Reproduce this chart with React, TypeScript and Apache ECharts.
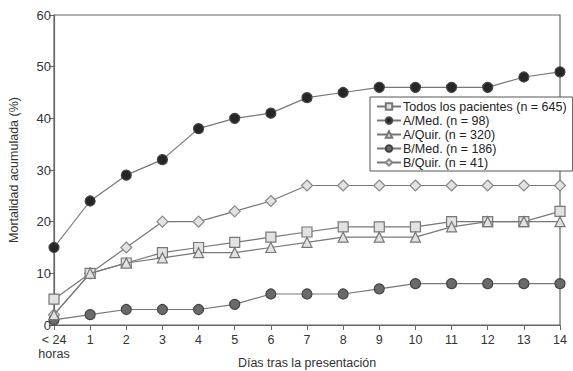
import React, { useEffect, useRef } from "react";
import * as echarts from "echarts";

const categories = ["< 24\nhoras", "1", "2", "3", "4", "5", "6", "7", "8", "9", "10", "11", "12", "13", "14"];
const todos = [5, 10, 12, 14, 15, 16, 17, 18, 19, 19, 19, 20, 20, 20, 22];
const aMed = [15, 24, 29, 32, 38, 40, 41, 44, 45, 46, 46, 46, 46, 48, 49];
const aQuir = [2, 10, 12, 13, 14, 14, 15, 16, 17, 17, 17, 19, 20, 20, 20];
const bMed = [1, 2, 3, 3, 3, 4, 6, 6, 6, 7, 8, 8, 8, 8, 8];
const bQuir = [2, 10, 15, 20, 20, 22, 24, 27, 27, 27, 27, 27, 27, 27, 27];

const FONT = "'Liberation Sans', Arial, sans-serif";

export default function App() {
  const ref = useRef<HTMLDivElement>(null);
  useEffect(() => {
    if (!ref.current) return;
    const chart = echarts.init(ref.current, null, { renderer: "svg" });
    const lineStyle = { color: "#777", width: 1.2 };
    const mk = (name: string, data: number[], symbol: string, size: number, fill: string, border: string, z: number) => ({
      name,
      type: "line",
      data,
      symbol,
      symbolSize: size,
      showSymbol: true,
      z,
      lineStyle,
      itemStyle: { color: fill, borderColor: border, borderWidth: 1.2 },
      emphasis: { disabled: true },
    });
    chart.setOption({
      animation: false,
      backgroundColor: "#fff",
      textStyle: { fontFamily: FONT },
      grid: {
        left: 54, right: 13, top: 15, bottom: 46, show: true, borderColor: "#666", borderWidth: 1.2,
        containLabel: false, outerBoundsMode: "none",
      },
      legend: {
        orient: "vertical",
        left: 370,
        top: 97,
        itemWidth: 24,
        itemHeight: 8,
        itemGap: 1,
        padding: [3, 6, 2, 6],
        borderColor: "#555",
        borderWidth: 1,
        backgroundColor: "#fff",
        textStyle: { fontFamily: FONT, fontSize: 12.5, color: "#222", padding: [0, 0, 0, -3] },
        data: [
          { name: "Todos los pacientes (n = 645)" },
          { name: "A/Med. (n = 98)" },
          { name: "A/Quir. (n = 320)" },
          { name: "B/Med. (n = 186)" },
          { name: "B/Quir. (n = 41)" },
        ],
      },
      xAxis: {
        type: "category",
        data: categories,
        boundaryGap: false,
        name: "Días tras la presentación",
        nameLocation: "middle",
        nameGap: 31,
        nameMoveOverlap: false,
        nameTextStyle: { fontFamily: FONT, fontSize: 12.5, color: "#333" },
        axisLine: { lineStyle: { color: "#666", width: 1.2 } },
        axisTick: { show: true, length: 5, alignWithLabel: true, lineStyle: { color: "#666" } },
        axisLabel: { fontFamily: FONT, fontSize: 12.5, color: "#333", margin: 8, lineHeight: 14, interval: 0 },
        splitLine: { show: false },
      },
      yAxis: {
        type: "value",
        min: 0,
        max: 60,
        interval: 10,
        name: "Mortalidad acumulada (%)",
        nameLocation: "middle",
        nameGap: 34,
        nameMoveOverlap: false,
        nameTextStyle: { fontFamily: FONT, fontSize: 12.5, color: "#333" },
        axisLine: { show: true, lineStyle: { color: "#666", width: 1.2 } },
        axisTick: { show: true, length: 5, lineStyle: { color: "#666" } },
        axisLabel: { fontFamily: FONT, fontSize: 13, color: "#333", margin: 3 },
        splitLine: { show: false },
      },
      series: [
        mk("Todos los pacientes (n = 645)", todos, "rect", 10, "#e2e2e2", "#777", 3),
        mk("A/Med. (n = 98)", aMed, "circle", 10, "#262626", "#444", 3),
        mk("A/Quir. (n = 320)", aQuir, "triangle", 10, "#e2e2e2", "#777", 4),
        mk("B/Med. (n = 186)", bMed, "circle", 10, "#6a6a6a", "#444", 3),
        mk("B/Quir. (n = 41)", bQuir, "diamond", 11, "#e2e2e2", "#888", 2),
      ],
    });
    return () => chart.dispose();
  }, []);
  return <div ref={ref} style={{ position: "absolute", left: 0, top: 0, width: 573, height: 371 }} />;
}
